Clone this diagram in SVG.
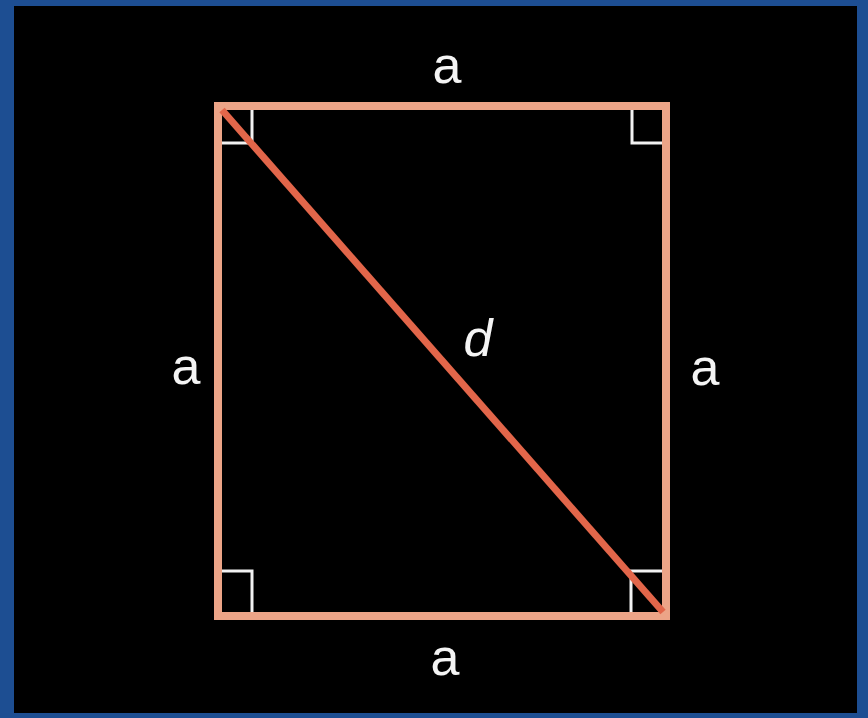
<svg xmlns="http://www.w3.org/2000/svg" width="868" height="718" viewBox="0 0 868 718">
<style>
.lbl{font-family:"Liberation Sans",Arial,sans-serif;font-size:52px;fill:#f4f4f4;text-anchor:middle}
.ra{fill:none;stroke:#f2f2f2;stroke-width:3}
</style>
<rect x="0" y="0" width="868" height="718" fill="#1d4e92"/>
<rect x="14" y="6" width="843" height="707" fill="#000"/>
<g id="square">
<rect x="218" y="106" width="448" height="510" fill="none" stroke="#eca487" stroke-width="8"/>
</g>
<g id="right-angles">
<polyline class="ra" points="252,110 252,143 222,143"/>
<polyline class="ra" points="632,110 632,143 662,143"/>
<polyline class="ra" points="222,571 252,571 252,612"/>
<polyline class="ra" points="662,571 631,571 631,612"/>
</g>
<g id="connectors">
<line x1="222" y1="110" x2="663" y2="612" stroke="#e2664a" stroke-width="7"/>
</g>
<g id="labels">
<text class="lbl" x="447" y="83">a</text>
<text class="lbl" x="186" y="384">a</text>
<text class="lbl" x="705" y="385">a</text>
<text class="lbl" x="445" y="675">a</text>
<text class="lbl" x="478" y="356" font-style="italic">d</text>
</g>
</svg>
